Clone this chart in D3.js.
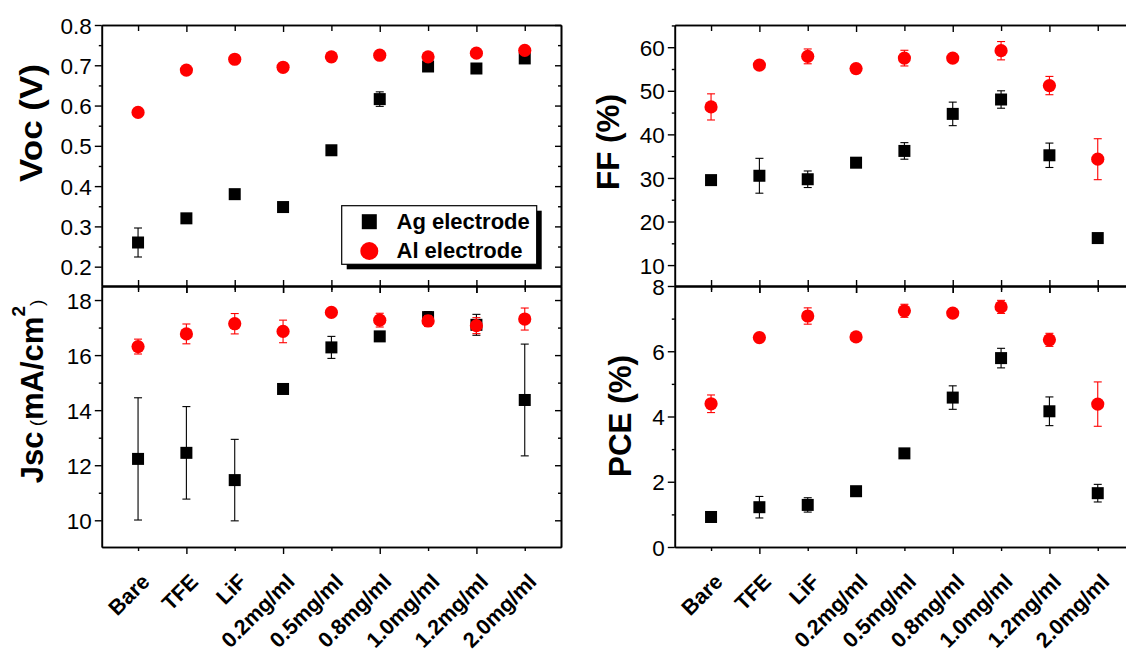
<!DOCTYPE html>
<html>
<head>
<meta charset="utf-8">
<script src="https://cdn.jsdelivr.net/npm/d3@7"></script>
<style>
  html, body { margin: 0; padding: 0; background: #fff; }
  svg { display: block; }
  text { font-family: "Liberation Sans", Arial, sans-serif; fill: #000; }
</style>
</head>
<body>
<svg id="chart" width="1126" height="651"></svg>
<script>
// ---------- data ----------
const categories = ["Bare", "TFE", "LiF", "0.2mg/ml", "0.5mg/ml", "0.8mg/ml", "1.0mg/ml", "1.2mg/ml", "2.0mg/ml"];

const vocAg    = [0.260, 0.320, 0.380, 0.348, 0.489, 0.616, 0.697, 0.692, 0.717];
const vocAgErr = [0.036, 0.006, 0.006, 0.005, 0.005, 0.018, 0.008, 0.006, 0.012];
const vocAl    = [0.583, 0.688, 0.715, 0.695, 0.721, 0.725, 0.721, 0.730, 0.737];
const vocAlErr = [0.005, 0.005, 0.005, 0.005, 0.005, 0.005, 0.005, 0.005, 0.005];

const jscAg    = [12.23, 12.45, 11.46, 14.77, 16.28, 16.68, 17.38, 17.10, 14.37];
const jscAgErr = [2.22, 1.68, 1.48, 0.15, 0.40, 0.12, 0.20, 0.38, 2.03];
const jscAl    = [16.31, 16.77, 17.14, 16.86, 17.55, 17.27, 17.24, 17.07, 17.31];
const jscAlErr = [0.27, 0.36, 0.37, 0.41, 0.08, 0.25, 0.20, 0.29, 0.40];

const ffAg    = [29.5, 30.5, 29.7, 33.5, 36.2, 44.7, 48.0, 35.2, 16.2];
const ffAgErr = [1.0, 4.0, 1.9, 1.0, 1.9, 2.7, 2.0, 2.8, 0.8];
const ffAl    = [46.3, 55.9, 57.9, 55.1, 57.5, 57.5, 59.2, 51.2, 34.3];
const ffAlErr = [3.0, 0.8, 1.7, 0.8, 1.8, 0.7, 2.1, 2.1, 4.7];

const pceAg    = [0.92, 1.22, 1.29, 1.71, 2.87, 4.58, 5.79, 4.16, 1.65];
const pceAgErr = [0.08, 0.33, 0.22, 0.10, 0.12, 0.36, 0.30, 0.44, 0.27];
const pceAl    = [4.39, 6.42, 7.08, 6.44, 7.24, 7.17, 7.36, 6.35, 4.38];
const pceAlErr = [0.27, 0.10, 0.25, 0.10, 0.20, 0.10, 0.20, 0.20, 0.68];

const vocTicks = [0.2, 0.3, 0.4, 0.5, 0.6, 0.7, 0.8];
const jscTicks = [10, 12, 14, 16, 18];
const ffTicks  = [10, 20, 30, 40, 50, 60];
const pceTicks = [0, 2, 4, 6, 8];

const seriesNames = ["Ag electrode", "Al electrode"];
const seriesColors = ["#000000", "#ff0000"];

// ---------- layout ----------
const svg = d3.select("#chart");
const FONT = '"Liberation Sans", Arial, sans-serif';

const panels = [
  { x0: 101.8, x1: 561, y0: 25, y1: 286, dom: [0.152, 0.8], ticks: vocTicks, minorStep: 0.05, fmt: d3.format(".1f"),
    ag: vocAg, agE: vocAgErr, al: vocAl, alE: vocAlErr, top: true },
  { x0: 101.8, x1: 561, y0: 286, y1: 547, dom: [9.03, 18.51], ticks: jscTicks, minorStep: 1, fmt: d3.format("d"),
    ag: jscAg, agE: jscAgErr, al: jscAl, alE: jscAlErr, top: false },
  { x0: 674.8, x1: 1134, y0: 25, y1: 286, dom: [5.2, 65.1], ticks: ffTicks, minorStep: 5, fmt: d3.format("d"),
    ag: ffAg, agE: ffAgErr, al: ffAl, alE: ffAlErr, top: true },
  { x0: 674.8, x1: 1134, y0: 286, y1: 547, dom: [0, 8], ticks: pceTicks, minorStep: 1, fmt: d3.format("d"),
    ag: pceAg, agE: pceAgErr, al: pceAl, alE: pceAlErr, top: false }
];

function styleAxis(g) {
  g.select(".domain").attr("stroke", "#000").attr("stroke-width", 1.6);
  g.selectAll(".tick line").attr("stroke", "#000").attr("stroke-width", 1.4);
  g.selectAll(".tick text").attr("font-family", FONT).attr("font-size", 22.5).attr("fill", "#000");
}

panels.forEach((p, pi) => {
  const x = d3.scaleLinear().domain([0.25, 9.75]).range([p.x0, p.x1]);
  const y = d3.scaleLinear().domain(p.dom).range([p.y1, p.y0]);
  const idx = d3.range(1, 10);
  const majorX = idx.filter(i => i % 2 === 0);
  const minorX = idx.filter(i => i % 2 === 1);
  const minorY = d3.range(Math.ceil(p.dom[0] / p.minorStep), Math.floor(p.dom[1] / p.minorStep) + 1)
    .map(k => +(k * p.minorStep).toFixed(4))
    .filter(v => !p.ticks.some(t => Math.abs(t - v) < 1e-6));

  const g = svg.append("g");

  // left axis (outward ticks)
  g.append("g").attr("transform", `translate(${p.x0},0)`)
    .call(d3.axisLeft(y).tickValues(minorY).tickSize(3).tickSizeOuter(0).tickFormat(""))
    .call(styleAxis);
  g.append("g").attr("transform", `translate(${p.x0},0)`)
    .call(d3.axisLeft(y).tickValues(p.ticks).tickSize(7).tickSizeOuter(0).tickPadding(3).tickFormat(p.fmt))
    .call(styleAxis)
    .call(s => s.selectAll(".tick text").attr("dy", "0.36em"));

  // right axis (inward ticks)
  g.append("g").attr("transform", `translate(${p.x1},0)`)
    .call(d3.axisLeft(y).tickValues(p.ticks).tickSize(6).tickSizeOuter(0).tickFormat(""))
    .call(styleAxis);
  g.append("g").attr("transform", `translate(${p.x1},0)`)
    .call(d3.axisLeft(y).tickValues(minorY).tickSize(3).tickSizeOuter(0).tickFormat(""))
    .call(styleAxis);

  // top axis
  g.append("g").attr("transform", `translate(0,${p.y0})`)
    .call(d3.axisBottom(x).tickValues(majorX).tickSize(7).tickSizeOuter(0).tickFormat(""))
    .call(styleAxis);
  g.append("g").attr("transform", `translate(0,${p.y0})`)
    .call(d3.axisBottom(x).tickValues(minorX).tickSize(6).tickSizeOuter(0).tickFormat(""))
    .call(styleAxis);
  if (!p.top) {
    g.append("g").attr("transform", `translate(0,${p.y0})`)
      .call(d3.axisTop(x).tickValues(idx).tickSize(6).tickSizeOuter(0).tickFormat(""))
      .call(styleAxis);
  }

  // bottom axis
  g.append("g").attr("transform", `translate(0,${p.y1})`)
    .call(d3.axisBottom(x).tickValues(majorX).tickSize(7).tickSizeOuter(0).tickFormat(""))
    .call(styleAxis);
  g.append("g").attr("transform", `translate(0,${p.y1})`)
    .call(d3.axisBottom(x).tickValues(minorX).tickSize(4).tickSizeOuter(0).tickFormat(""))
    .call(styleAxis);

  // category labels under bottom panels
  if (!p.top) {
    g.append("g").selectAll("text").data(categories).join("text")
      .attr("transform", (d, i) => `translate(${x(i + 1) + 13},583) rotate(-45)`)
      .attr("text-anchor", "end")
      .attr("font-size", 21.5).attr("font-weight", "bold")
      .text(d => d);
  }

  // series
  const series = [
    { v: p.ag, e: p.agE, color: seriesColors[0], shape: "square" },
    { v: p.al, e: p.alE, color: seriesColors[1], shape: "circle" }
  ];
  series.forEach(s => {
    const eg = g.append("g").attr("stroke", s.color).attr("stroke-width", 1.1);
    s.v.forEach((v, i) => {
      const cx = x(i + 1);
      const yt = y(v + s.e[i]), yb = y(v - s.e[i]);
      eg.append("line").attr("x1", cx).attr("x2", cx).attr("y1", yt).attr("y2", yb);
      eg.append("line").attr("x1", cx - 4).attr("x2", cx + 4).attr("y1", yt).attr("y2", yt);
      eg.append("line").attr("x1", cx - 4).attr("x2", cx + 4).attr("y1", yb).attr("y2", yb);
    });
    const mg = g.append("g").attr("fill", s.color);
    if (s.shape === "square") {
      mg.selectAll("rect").data(s.v).join("rect")
        .attr("x", (d, i) => x(i + 1) - 6).attr("y", d => y(d) - 6)
        .attr("width", 12).attr("height", 12);
    } else {
      mg.selectAll("circle").data(s.v).join("circle")
        .attr("cx", (d, i) => x(i + 1)).attr("cy", d => y(d)).attr("r", 6.6);
    }
  });
});

// ---------- axis titles ----------
function vTitle(xp, yp, txt, len) {
  svg.append("text").attr("transform", `translate(${xp},${yp}) rotate(-90)`)
    .attr("text-anchor", "middle").attr("font-size", 31).attr("font-weight", "bold")
    .attr("textLength", len).attr("lengthAdjust", "spacingAndGlyphs").text(txt);
}
vTitle(42, 123, "Voc (V)", 118);
vTitle(619, 142, "FF (%)", 96);
vTitle(631, 416, "PCE (%)", 122);

const jt = svg.append("text").attr("transform", "translate(43,391.5) rotate(-90)")
  .attr("text-anchor", "middle").attr("font-weight", "bold").attr("font-size", 31);
jt.append("tspan").text("Jsc");
jt.append("tspan").attr("font-size", 19).attr("font-weight", "normal").text(" (");
jt.append("tspan").text("mA/cm");
jt.append("tspan").attr("font-size", 19).attr("dy", -18).text("2");
jt.append("tspan").attr("font-size", 19).attr("font-weight", "normal").attr("dy", 18).text(")");

// ---------- legend ----------
const lg = svg.append("g");
lg.append("rect").attr("x", 346.7).attr("y", 210.7).attr("width", 195).attr("height", 58.6).attr("fill", "#000");
lg.append("rect").attr("x", 341.7).attr("y", 205.7).attr("width", 195).attr("height", 58.6)
  .attr("fill", "#fff").attr("stroke", "#000").attr("stroke-width", 1.2);
lg.append("rect").attr("x", 369.3 - 7.5).attr("y", 221.7 - 7.5).attr("width", 15).attr("height", 15).attr("fill", seriesColors[0]);
lg.append("circle").attr("cx", 369.3).attr("cy", 251).attr("r", 9).attr("fill", seriesColors[1]);
lg.selectAll("text.leg").data(seriesNames).join("text").attr("class", "leg")
  .attr("x", 396.5).attr("y", (d, i) => 229.3 + i * 29)
  .attr("font-size", 22).attr("font-weight", "bold").text(d => d);
</script>
</body>
</html>
